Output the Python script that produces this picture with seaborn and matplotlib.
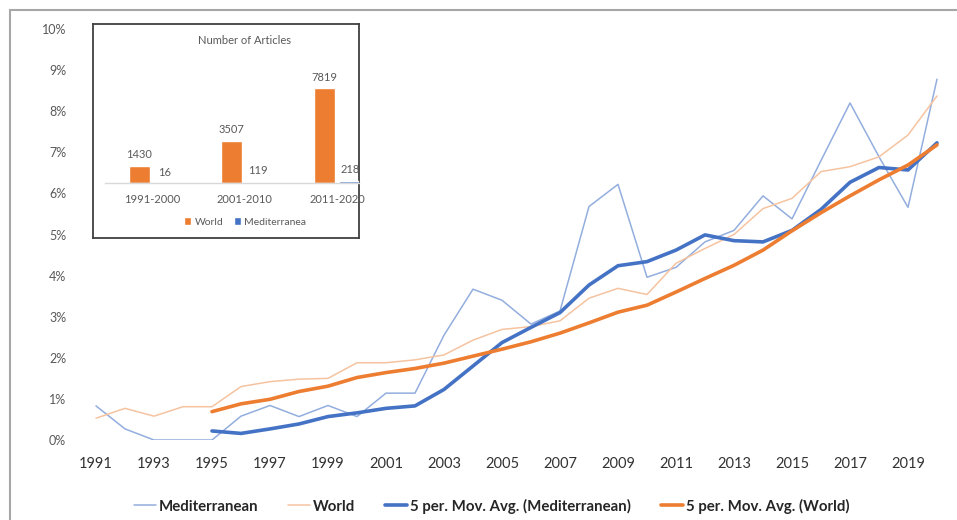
import numpy as np
import pandas as pd
import matplotlib.pyplot as plt
from matplotlib.lines import Line2D
from matplotlib.ticker import FuncFormatter
import seaborn as sns

sns.set_style("white")
plt.rcParams['font.family'] = ['Lato', 'DejaVu Sans']

# share of articles (%) per year
years = list(range(1991, 2021))
med = [0.83, 0.27, 0, 0, 0, 0.58, 0.84, 0.57, 0.84, 0.57,
       1.14, 1.14, 2.55, 3.67, 3.40, 2.82, 3.14, 5.68, 6.22, 3.96,
       4.20, 4.82, 5.10, 5.94, 5.38, 6.80, 8.20, 6.89, 5.66, 8.78]
world = [0.53, 0.77, 0.58, 0.81, 0.81, 1.30, 1.42, 1.48, 1.50, 1.88,
         1.88, 1.95, 2.07, 2.43, 2.69, 2.76, 2.90, 3.45, 3.69, 3.54,
         4.30, 4.66, 5.00, 5.63, 5.88, 6.53, 6.65, 6.89, 7.42, 8.37]
ma_years = list(range(1995, 2021))
med_ma = [0.22, 0.16, 0.27, 0.39, 0.57, 0.66, 0.77, 0.83, 1.23, 1.80,
          2.37, 2.74, 3.10, 3.77, 4.24, 4.34, 4.62, 4.99, 4.85, 4.82,
          5.10, 5.61, 6.27, 6.63, 6.57, 7.23]
world_ma = [0.69, 0.88, 0.99, 1.18, 1.31, 1.52, 1.64, 1.74, 1.87, 2.04,
            2.21, 2.39, 2.60, 2.85, 3.11, 3.28, 3.60, 3.93, 4.25, 4.62,
            5.09, 5.53, 5.94, 6.33, 6.69, 7.18]

# inset: number of articles
periods = ["1991-2000", "2001-2010", "2011-2020"]
world_n = [1430, 3507, 7819]
med_n = [16, 119, 218]

BLUE = "#4472C4"
ORANGE = "#ED7D31"
W, H = 957, 520


def px(x0, y0, x1, y1):
    return [x0 / W, 1 - y1 / H, (x1 - x0) / W, (y1 - y0) / H]


fig = plt.figure(figsize=(W / 100, H / 100), dpi=100)
ax = fig.add_axes(px(81.5, 29, 951.5, 440))

sns.lineplot(x=years, y=med, ax=ax, color="#93AEDE", lw=1.1, label="Mediterranean")
sns.lineplot(x=years, y=world, ax=ax, color="#F6C3A0", lw=1.1, label="World")
sns.lineplot(x=ma_years, y=med_ma, ax=ax, color=BLUE, lw=2.6,
             label="5 per. Mov. Avg. (Mediterranean)")
sns.lineplot(x=ma_years, y=world_ma, ax=ax, color=ORANGE, lw=2.6,
             label="5 per. Mov. Avg. (World)")

ax.set_xlim(1990.5, 2020.5)
ax.set_ylim(0, 10)
ax.set_yticks(np.arange(0, 11, 1))
ax.yaxis.set_major_formatter(FuncFormatter(lambda v, p: f"{int(v)}%"))
ax.set_xticks(list(range(1991, 2020, 2)))
ax.tick_params(axis="y", length=0, pad=11, labelsize=9, labelcolor="#595959")
ax.tick_params(axis="x", length=0, pad=12, labelsize=10.5, labelcolor="#333333")
for s in ax.spines.values():
    s.set_visible(False)
ax.set_xlabel("")
ax.set_ylabel("")

handles, labels = ax.get_legend_handles_labels()
ax.get_legend().remove()
leg = fig.legend(handles, labels, loc="center", bbox_to_anchor=(491.5 / W, 1 - 506 / H),
                 ncol=4, frameon=False, handlelength=1.45, handletextpad=0.2,
                 columnspacing=2.0, prop={"weight": "bold", "size": 10.8})
for t in leg.get_texts():
    t.set_color("#262626")

# outer gray frame
fig.add_artist(Line2D([10 / W, 1], [1 - 10 / H, 1 - 10 / H], transform=fig.transFigure,
                      color="#a6a6a6", lw=1.5))
fig.add_artist(Line2D([10 / W, 10 / W], [0, 1 - 10 / H], transform=fig.transFigure,
                      color="#a6a6a6", lw=1.5))

# inset box
box = fig.add_axes(px(93, 24, 359, 238))
box.set_xticks([])
box.set_yticks([])
for s in box.spines.values():
    s.set_color("#404040")
    s.set_linewidth(1.3)

ins = fig.add_axes(px(105, 61.8, 359, 183.3))
ins.patch.set_alpha(0)
df = pd.DataFrame({
    "period": periods * 2,
    "series": ["World"] * 3 + ["Mediterranea"] * 3,
    "n": world_n + med_n,
})
sns.barplot(data=df, x="period", y="n", hue="series", ax=ins,
            palette={"World": ORANGE, "Mediterranea": BLUE},
            width=0.56, gap=0.19, saturation=1)
for c in ins.containers:
    ins.bar_label(c, padding=4, fontsize=8, color="#595959")
ins.set_xlim(-0.508, 2.238)
ins.set_ylim(0, 10000)
ins.set_yticks([])
ins.tick_params(axis="x", length=0, pad=8, labelsize=8, labelcolor="#595959")
ins.set_xlabel("")
ins.set_ylabel("")
for k in ["top", "left", "right"]:
    ins.spines[k].set_visible(False)
ins.spines["bottom"].set_color("#d9d9d9")
ins.spines["bottom"].set_linewidth(1)
ins.legend(loc="center", bbox_to_anchor=(245 / W, 1 - 222 / H),
           bbox_transform=fig.transFigure, ncol=2, frameon=False,
           handlelength=0.7, handleheight=0.7, handletextpad=0.3,
           columnspacing=1.0, prop={"size": 7.5}, labelcolor="#595959")
fig.text(244 / W, 1 - 41 / H, "Number of Articles", ha="center", va="center",
         fontsize=8, color="#595959")

fig.savefig("out.png", dpi=100)
